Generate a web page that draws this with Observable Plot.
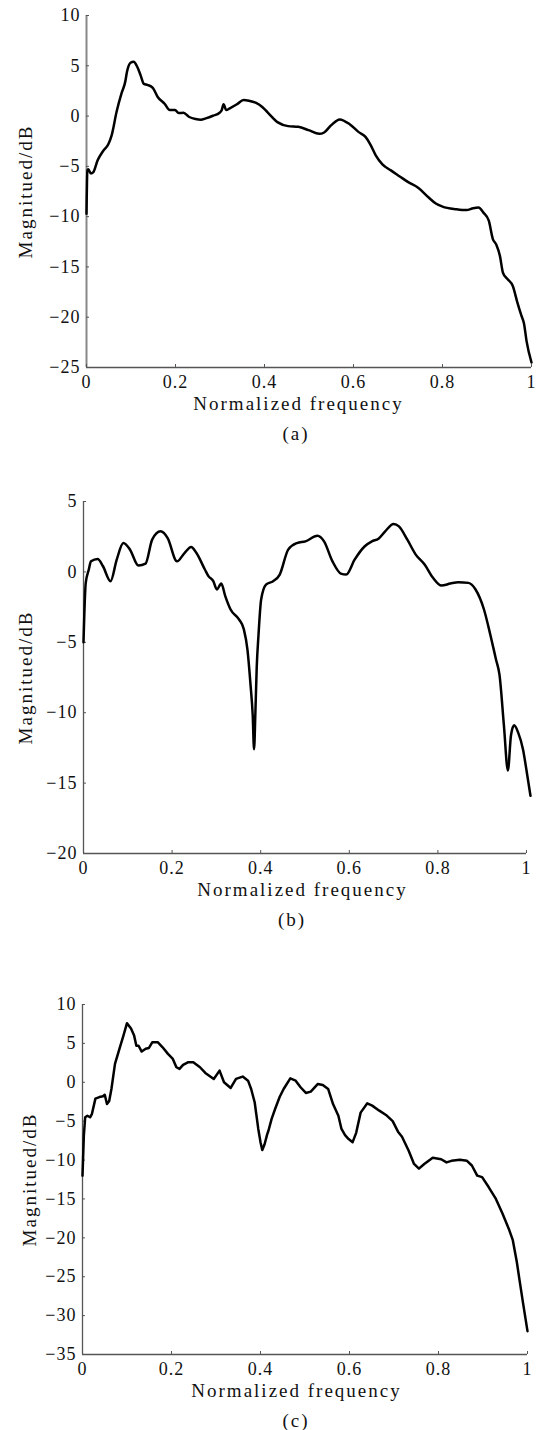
<!DOCTYPE html>
<html>
<head>
<meta charset="utf-8">
<script src="https://cdn.jsdelivr.net/npm/d3@7"></script>
<script src="https://cdn.jsdelivr.net/npm/@observablehq/plot@0.6"></script>
<style>
  html, body { margin: 0; padding: 0; background: #fff; }
  #root { position: relative; width: 536px; height: 1430px; overflow: hidden;
          font-family: "Liberation Serif", "Times New Roman", serif; color: #111; }
  .panel { position: absolute; left: 0; }
  .panel svg text { letter-spacing: 1px; }
  .panel svg .lbl text { letter-spacing: 2px; }
  .cap { position: absolute; font-size: 19px; letter-spacing: 2px; line-height: 22px;
         transform: translateX(-50%); white-space: nowrap; }
</style>
</head>
<body>
<div id="root"></div>
<script>
// ---------- data ----------
const xTicks = [0, 0.2, 0.4, 0.6, 0.8, 1];
const xLabel = "Normalized frequency";
const yLabel = "Magnitued/dB";

// (a)
const yTicksA = [-25, -20, -15, -10, -5, 0, 5, 10];
const freqA = [0, 0.002, 0.004, 0.01, 0.015, 0.025, 0.037, 0.049, 0.056, 0.068,
  0.079, 0.087, 0.091, 0.099, 0.106, 0.114, 0.122, 0.129, 0.137, 0.149,
  0.16, 0.176, 0.187, 0.199, 0.207, 0.218, 0.23, 0.245, 0.257, 0.268,
  0.284, 0.299, 0.304, 0.308, 0.314, 0.322, 0.338, 0.353, 0.365, 0.38,
  0.395, 0.407, 0.43, 0.453, 0.476, 0.499, 0.523, 0.534, 0.55, 0.569,
  0.592, 0.611, 0.627, 0.638, 0.65, 0.665, 0.684, 0.704, 0.723, 0.746,
  0.769, 0.785, 0.8, 0.831, 0.854, 0.869, 0.881, 0.892, 0.904, 0.913,
  0.921, 0.929, 0.936, 0.946, 0.958, 0.968, 0.977, 0.983, 0.989, 1.0];
const magA = [-9.7, -5.4, -5.3, -5.7, -5.6, -4.4, -3.5, -2.8, -2.0, 0.5,
  2.3, 3.4, 4.4, 5.3, 5.4, 4.9, 4.0, 3.2, 3.1, 2.8,
  1.9, 1.2, 0.6, 0.6, 0.3, 0.33, -0.07, -0.3, -0.37, -0.23,
  0.03, 0.33, 0.6, 1.17, 0.6, 0.77, 1.17, 1.6, 1.53, 1.33,
  0.9, 0.37, -0.63, -1.0, -1.07, -1.4, -1.77, -1.63, -0.9, -0.33,
  -0.83, -1.57, -2.07, -2.83, -3.9, -4.8, -5.4, -6.0, -6.57, -7.15,
  -8.1, -8.7, -9.0, -9.26, -9.35, -9.16, -9.1, -9.6, -10.4, -12.2,
  -12.8, -13.9, -15.6, -16.2, -16.9, -18.5, -19.8, -20.6, -22.4, -24.5];

// (b)
const yTicksB = [-20, -15, -10, -5, 0, 5];
const freqB = [0, 0.005, 0.012, 0.017, 0.032, 0.044, 0.061, 0.075, 0.09, 0.105,
  0.124, 0.14, 0.155, 0.174, 0.19, 0.211, 0.228, 0.243, 0.255, 0.274,
  0.282, 0.293, 0.301, 0.311, 0.32, 0.332, 0.351, 0.362, 0.37, 0.377,
  0.382, 0.385, 0.388, 0.391, 0.395, 0.401, 0.412, 0.428, 0.443, 0.462,
  0.482, 0.501, 0.528, 0.543, 0.562, 0.581, 0.593, 0.612, 0.635, 0.651,
  0.666, 0.681, 0.7, 0.712, 0.731, 0.75, 0.77, 0.789, 0.808, 0.828,
  0.846, 0.869, 0.885, 0.904, 0.919, 0.931, 0.939, 0.949, 0.958, 0.965,
  0.972, 0.981, 0.992, 1.002, 1.009];
const magB = [-5.0, -0.8, 0.17, 0.75, 0.92, 0.4, -0.66, 0.87, 2.05, 1.58,
  0.45, 0.59, 2.29, 2.88, 2.4, 0.75, 1.34, 1.77, 1.34, 0.17,
  -0.3, -0.66, -1.25, -0.83, -1.72, -2.67, -3.37, -4.08, -5.5, -8.0,
  -10.2, -12.6, -10.0, -6.8, -4.5, -1.96, -0.9, -0.66, -0.19, 1.58,
  2.05, 2.17, 2.57, 2.17, 0.75, -0.12, -0.19, 0.87, 1.82, 2.17,
  2.36, 2.88, 3.4, 3.23, 2.29, 1.23, 0.52, -0.42, -0.97, -0.83,
  -0.73, -0.78, -1.25, -2.67, -4.55, -6.2, -7.3, -10.9, -14.1, -11.6,
  -10.9, -11.4, -12.6, -14.5, -15.9];

// (c)
const yTicksC = [-35, -30, -25, -20, -15, -10, -5, 0, 5, 10];
const freqC = [0, 0.003, 0.006, 0.011, 0.017, 0.021, 0.029, 0.038, 0.046, 0.05,
  0.055, 0.06, 0.065, 0.073, 0.084, 0.092, 0.1, 0.109, 0.116, 0.121,
  0.126, 0.133, 0.142, 0.149, 0.157, 0.169, 0.18, 0.192, 0.203, 0.211,
  0.218, 0.226, 0.238, 0.249, 0.264, 0.276, 0.295, 0.308, 0.318, 0.333,
  0.345, 0.36, 0.372, 0.379, 0.387, 0.395, 0.4, 0.404, 0.409, 0.415,
  0.418, 0.425, 0.433, 0.443, 0.452, 0.467, 0.479, 0.49, 0.502, 0.513,
  0.529, 0.54, 0.552, 0.563, 0.575, 0.582, 0.59, 0.598, 0.607, 0.615,
  0.625, 0.64, 0.651, 0.667, 0.682, 0.697, 0.709, 0.718, 0.733, 0.745,
  0.756, 0.768, 0.787, 0.806, 0.818, 0.829, 0.848, 0.864, 0.875, 0.887,
  0.898, 0.913, 0.929, 0.944, 0.959, 0.967, 0.976, 0.982, 0.99, 1.0];
const magC = [-12.0, -6.9, -4.5, -4.3, -4.5, -4.1, -2.1, -1.9, -1.8, -1.6,
  -2.8, -2.4, -0.86, 2.36, 4.5, 6.0, 7.6, 6.9, 6.0, 4.7,
  4.7, 3.95, 4.3, 4.4, 5.15, 5.15, 4.5, 3.65, 3.0, 1.93,
  1.72, 2.23, 2.58, 2.58, 1.93, 1.2, 0.43, 1.5, 0, -0.73,
  0.43, 0.73, 0.21, -0.86, -2.6, -6.0, -7.7, -8.7, -8.0, -6.7,
  -6.2, -4.7, -3.4, -1.9, -0.86, 0.5, 0.21, -0.64, -1.37, -1.2,
  -0.21, -0.34, -0.86, -2.8, -4.3, -6.0, -6.8, -7.3, -7.7, -6.5,
  -3.9, -2.7, -3.0, -3.65, -4.2, -5.0, -6.35, -7.0, -8.8, -10.5,
  -11.1, -10.5, -9.7, -9.9, -10.3, -10.1, -9.96, -10.1, -10.7, -12.0,
  -12.2, -13.5, -15.0, -16.9, -19.0, -20.3, -23.1, -25.4, -28.4, -32.0];

// ---------- drawing ----------
const FONT = '"Liberation Serif", "Times New Roman", serif';
const fmt = d => String(d).replace("-", "\u2212");
const root = document.getElementById("root");

function makePanel(cfg) {
  const data = cfg.freq.map((f, i) => ({f, m: cfg.mag[i]}));
  const yMin = d3.min(cfg.yTicks), yMax = d3.max(cfg.yTicks);
  const frameCenter = (cfg.marginLeft + (536 - cfg.marginRight)) / 2;
  const svg = Plot.plot({
    width: 536,
    height: cfg.height,
    marginTop: cfg.marginTop,
    marginBottom: cfg.marginBottom,
    marginLeft: cfg.marginLeft,
    marginRight: cfg.marginRight,
    x: {domain: [0, 1]},
    y: {domain: [yMin, yMax]},
    style: {fontFamily: FONT, fontSize: "18px", color: "#111", background: "transparent", overflow: "visible"},
    marks: [
      Plot.ruleY([yMin], {stroke: "#555", strokeWidth: 1.3}),
      Plot.ruleX([0], {stroke: cfg.yAxisColor, strokeWidth: cfg.yAxisWidth}),
      Plot.axisX(xTicks, {tickSize: -3, tickPadding: 11, stroke: "#555", tickFormat: fmt, label: null}),
      Plot.axisY(cfg.yTicks, {tickSize: -3, tickPadding: 9, stroke: "#555", tickFormat: fmt, label: null}),
      Plot.line(data, {x: "f", y: "m", stroke: "#000", strokeWidth: 2.5, curve: cfg.curve, clip: false}),
      Plot.text([xLabel], {frameAnchor: "bottom", dy: 42, dx: cfg.xLabelX - frameCenter,
        fontSize: 19, fill: "#111", className: "lbl"}),
      Plot.text([yLabel], {frameAnchor: "left", rotate: -90, dx: cfg.yLabelX - cfg.marginLeft,
        textAnchor: "middle", lineAnchor: "middle", fontSize: 19, fill: "#111", className: "lbl"})
    ]
  });
  const wrap = document.createElement("div");
  wrap.className = "panel";
  wrap.style.top = cfg.top + "px";
  wrap.appendChild(svg);
  root.appendChild(wrap);
  const cap = document.createElement("div");
  cap.className = "cap";
  cap.textContent = cfg.caption;
  cap.style.left = cfg.capX + "px";
  cap.style.top = (cfg.top + cfg.height - cfg.marginBottom + 67 - 11) + "px";
  root.appendChild(cap);
}

makePanel({top: 0, height: 422, marginTop: 15, marginBottom: 55, marginLeft: 86, marginRight: 5,
  yTicks: yTicksA, freq: freqA, mag: magA, curve: "monotone-x",
  yAxisColor: "#888", yAxisWidth: 2, xLabelX: 298, yLabelX: 25, capX: 296, caption: "(a)"});
makePanel({top: 470, height: 438, marginTop: 31, marginBottom: 55, marginLeft: 83, marginRight: 10,
  yTicks: yTicksB, freq: freqB, mag: magB, curve: "monotone-x",
  yAxisColor: "#555", yAxisWidth: 1.3, xLabelX: 302, yLabelX: 25, capX: 292, caption: "(b)"});
makePanel({top: 960, height: 449, marginTop: 44, marginBottom: 55, marginLeft: 82, marginRight: 9,
  yTicks: yTicksC, freq: freqC, mag: magC, curve: "linear",
  yAxisColor: "#555", yAxisWidth: 1.3, xLabelX: 296, yLabelX: 29, capX: 296, caption: "(c)"});
</script>
</body>
</html>
